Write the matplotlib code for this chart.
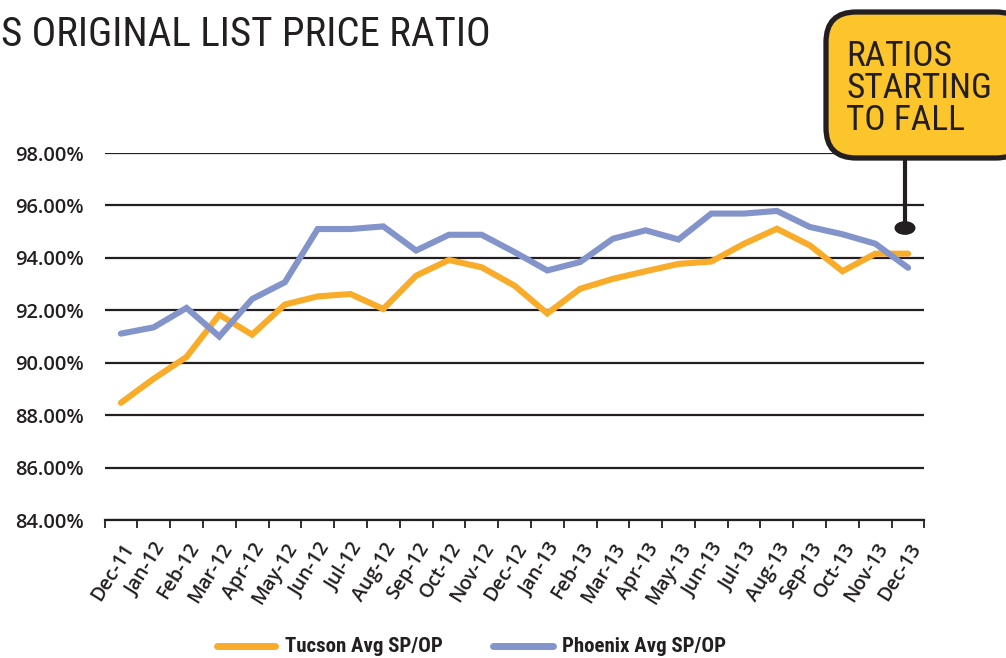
import matplotlib
matplotlib.use("Agg")
import matplotlib.pyplot as plt
from matplotlib import font_manager
from matplotlib.patches import FancyBboxPatch, Circle
from matplotlib.lines import Line2D

months = ["Dec-11", "Jan-12", "Feb-12", "Mar-12", "Apr-12", "May-12", "Jun-12", "Jul-12",
          "Aug-12", "Sep-12", "Oct-12", "Nov-12", "Dec-12", "Jan-13", "Feb-13", "Mar-13",
          "Apr-13", "May-13", "Jun-13", "Jul-13", "Aug-13", "Sep-13", "Oct-13", "Nov-13", "Dec-13"]
tucson = [88.47, 89.39, 90.22, 91.83, 91.07, 92.22, 92.53, 92.62, 92.05, 93.32, 93.92, 93.64,
          92.94, 91.88, 92.82, 93.20, 93.49, 93.77, 93.86, 94.54, 95.11, 94.48, 93.49, 94.16, 94.16]
phoenix = [91.11, 91.35, 92.09, 91.00, 92.43, 93.07, 95.10, 95.10, 95.20, 94.28, 94.88, 94.88,
           94.22, 93.52, 93.84, 94.73, 95.05, 94.70, 95.69, 95.69, 95.79, 95.18, 94.90, 94.54, 93.62]
yticks = [84, 86, 88, 90, 92, 94, 96, 98]

names = {f.name for f in font_manager.fontManager.ttflist}


def pick(cands):
    for c in cands:
        if c in names:
            return c
    return "DejaVu Sans"


narrow = pick(["Roboto Condensed", "IBM Plex Sans Condensed", "Liberation Sans Narrow", "Open Sans Condensed"])
tickf = pick(["Open Sans", "Noto Sans", "Lato", "DejaVu Sans"])

ORANGE = "#F9AC2A"
BLUE = "#8294C9"
INK = "#231F20"
YELLOW = "#FDC52C"

fig = plt.figure(figsize=(10.06, 6.58), dpi=100)
ax = fig.add_axes([104.5 / 1006, 1 - 520 / 658, (924.5 - 104.5) / 1006, (520 - 153) / 658])

x = list(range(len(months)))
ax.plot(x, tucson, color=ORANGE, lw=4.4, solid_capstyle="round", solid_joinstyle="miter", zorder=3)
ax.plot(x, phoenix, color=BLUE, lw=4.4, solid_capstyle="round", solid_joinstyle="miter", zorder=3)

ax.set_xlim(-0.5, len(months) - 0.5)
ax.set_ylim(84, 98)
ax.set_yticks(yticks)
ax.set_yticklabels([f"{v:.2f}%" for v in yticks], fontfamily=tickf, fontweight="semibold", fontsize=14.5, color=INK)
ax.yaxis.grid(True, color=INK, lw=1.6, zorder=1)
ax.set_axisbelow(True)
ax.tick_params(axis="y", length=0, pad=15)

ax.set_xticks(x)
ax.set_xticklabels(months, rotation=58, ha="right", va="top", rotation_mode="anchor",
                   fontfamily=tickf, fontweight="semibold", fontsize=14, color=INK)
ax.set_xticks([i - 0.5 for i in range(len(months) + 1)], minor=True)
ax.tick_params(axis="x", which="major", length=0, pad=14)
ax.tick_params(axis="x", which="minor", length=6, width=1.3, color=INK, direction="out")

for s in ["top", "right", "left"]:
    ax.spines[s].set_visible(False)
ax.spines["bottom"].set_color(INK)
ax.spines["bottom"].set_linewidth(1.6)

# Title (cut at left as in the source)
fig.text(1 / 1006, 1 - 46 / 658, "S ORIGINAL LIST PRICE RATIO", fontfamily=narrow, fontsize=29.5,
         color=INK, ha="left", va="baseline")

# Callout box
box = FancyBboxPatch((826 / 1006, 1 - 158 / 658), 200 / 1006, 146 / 658,
                     boxstyle="round,pad=0,rounding_size=0.03", transform=fig.transFigure,
                     facecolor=YELLOW, edgecolor=INK, lw=3.8, zorder=5, mutation_aspect=1006 / 658)
fig.patches.append(box)
fig.text(846 / 1006, 1 - 40 / 658, "RATIOS\nSTARTING\nTO FALL", fontfamily=narrow, fontsize=25.5,
         color=INK, ha="left", va="top", linespacing=0.97, zorder=6)
fig.add_artist(Line2D([905 / 1006, 905 / 1006], [1 - 160 / 658, 1 - 226 / 658], color=INK, lw=3,
                      transform=fig.transFigure, zorder=4))
fig.add_artist(Circle((905 / 1006, 1 - 228 / 658), 10.5 / 1006, transform=fig.transFigure,
                      facecolor=INK, edgecolor="none", zorder=4))

# Legend
for x0, x1, xt, col, lab in [(217, 275, 285, ORANGE, "Tucson Avg SP/OP"),
                             (493, 553, 562, BLUE, "Phoenix Avg SP/OP")]:
    fig.add_artist(Line2D([x0 / 1006, x1 / 1006], [1 - 646 / 658, 1 - 646 / 658], color=col,
                          lw=5, solid_capstyle="round", transform=fig.transFigure))
    fig.text(xt / 1006, 1 - 652 / 658, lab, fontfamily=narrow, fontweight="bold", fontsize=15,
             color=INK, ha="left", va="baseline")

fig.savefig("out.png", dpi=100, facecolor="white")
